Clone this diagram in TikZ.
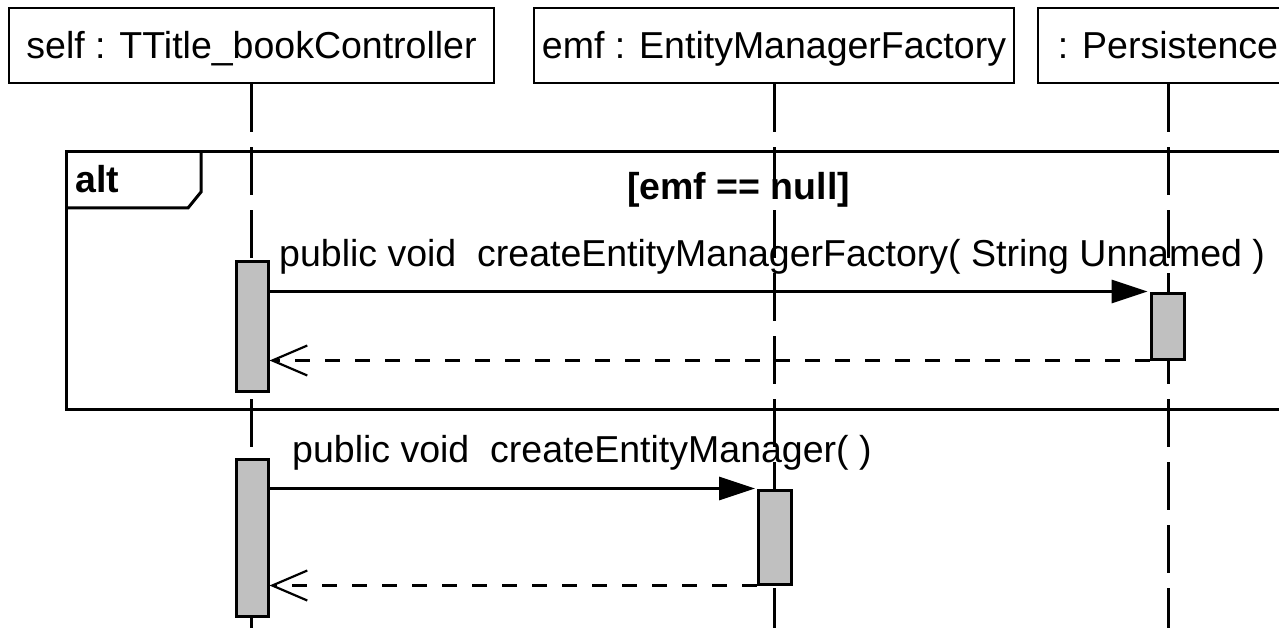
\documentclass[tikz,border=0pt]{standalone}
\usepackage{fontspec}
\setmainfont{Liberation Sans}
\usetikzlibrary{arrows.meta,calc}
\definecolor{actgray}{RGB}{192,192,192}
\begin{document}
\begin{tikzpicture}[x=1pt,y=-1pt,
  every node/.style={font=\fontsize{37.5}{40}\selectfont, inner sep=0pt},
  objbox/.style={draw, line width=2.7pt, fill=white, minimum height=75pt, text height=27pt, text depth=0pt},
  lifeline/.style={line width=3pt, dash pattern=on 48pt off 15pt},
  actbar/.style={draw, line width=3pt, fill=actgray, minimum width=32pt},
  msg/.style={line width=3pt, -{Triangle[length=36pt,width=23pt]}, shorten >=2pt},
  ret/.style={line width=3pt, dash pattern=on 15pt off 15pt, -{Straight Barb[length=35pt,width=30pt,line width=2.2pt]}},
  framebox/.style={line width=3pt},
  lbl/.style={anchor=base west},
  boldlbl/.style={font=\fontsize{37.5}{40}\selectfont\bfseries}
]
\useasboundingbox (0,0) rectangle (1279,628);
\clip (0,0) rectangle (1279,628);

% object boxes
\node[objbox, minimum width=485pt] (b1) at (251.5,45.5) {self : TTitle\_bookController};
\node[objbox, minimum width=480pt] (b2) at (774,45.5) {emf : EntityManagerFactory};
\node[objbox, minimum width=260pt] (b3) at (1168,45.5) {: Persistence};

% lifeline ends
\coordinate (e1) at (251.5,650);
\coordinate (e2) at (774,650);
\coordinate (e3) at (1168,650);

% lifelines
\draw[lifeline] (b1.south) -- (e1);
\draw[lifeline] (b2.south) -- (e2);
\draw[lifeline] (b3.south) -- (e3);

% combined fragment
\coordinate (fa) at (66,152);
\coordinate (fb) at (1330,409);
\draw[framebox] (fa) rectangle (fb);
\coordinate (t1) at (66,208);
\coordinate (t2) at (188,208);
\coordinate (t3) at (201,192);
\coordinate (t4) at (201,152);
\draw[framebox] (t1) -- (t2) -- (t3) -- (t4);
\node[lbl, boldlbl] (alt) at (75,193) {alt};
\node[anchor=base, boldlbl] (guard) at (738.5,200) {[emf == null]};

% activation bars
\node[actbar, minimum height=129pt] (act1) at (252,326.5) {};
\node[actbar, minimum height=66pt, minimum width=33pt] (actP) at (1167.5,326) {};
\node[actbar, minimum height=157pt] (act2) at (252,537.5) {};
\node[actbar, minimum height=94pt, minimum width=33pt] (actE) at (775,537) {};

% messages
\draw[msg] (act1.east |- actP.north west) -- (actP.north west);
\draw[ret] (actP.south west) -- (act1.east |- actP.south west);
\draw[msg] (act2.east |- actE.north west) -- (actE.north west);
\draw[ret] (actE.south west) -- (act2.east |- actE.south west);

% message labels
\node[lbl] (m1) at (279,267) {public void\ \ createEntityManagerFactory( String Unnamed )};
\node[lbl] (m2) at (292,462) {public void\ \ createEntityManager( )};
\end{tikzpicture}
\end{document}
